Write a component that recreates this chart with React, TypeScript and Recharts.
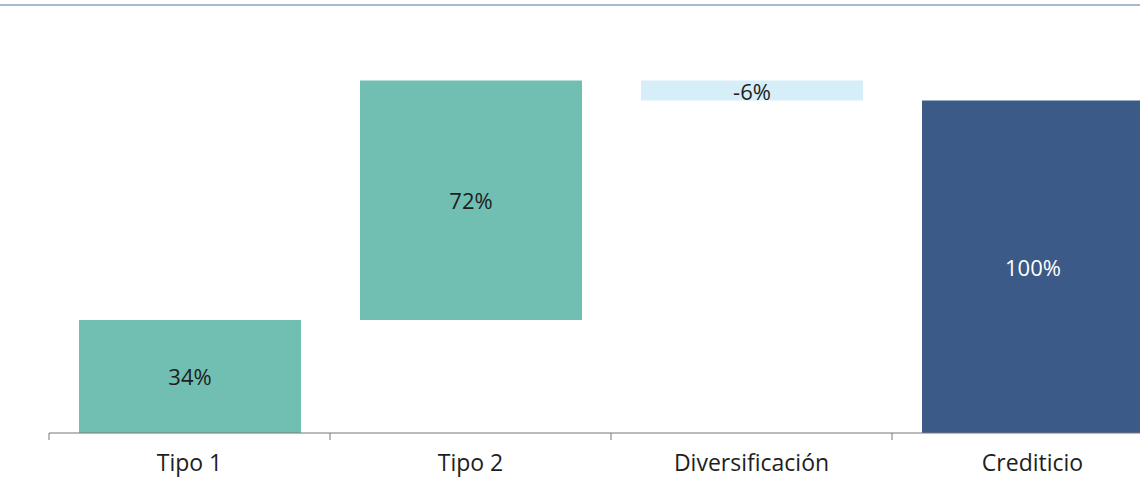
import React from 'react';
import { BarChart, Bar, XAxis, YAxis, Cell, LabelList } from 'recharts';

const categories = ['Tipo 1', 'Tipo 2', 'Diversificación', 'Crediticio'];
const values = [34, 72, -6, 100];
const isTotal = [false, false, false, true];

const barColors = ['#70bfb2', '#70bfb2', '#d6eef8', '#3b5a88'];
const labelColors = ['#1e1e1e', '#1e1e1e', '#1e1e1e', '#ffffff'];

const FONT = "'Open Sans', 'Noto Sans', sans-serif";

// waterfall: invisible base + visible step
const buildData = () => {
  let running = 0;
  return categories.map((name, i) => {
    const v = values[i];
    let base = 0;
    let height = 0;
    if (isTotal[i]) {
      base = 0;
      height = v;
    } else if (v >= 0) {
      base = running;
      height = v;
      running += v;
    } else {
      base = running + v;
      height = -v;
      running += v;
    }
    return { name, base, height, label: `${v}%` };
  });
};

const BAND = 281;

const CategoryTick = (props: any) => {
  const { x, y, payload } = props;
  const left = x - BAND / 2;
  return (
    <g>
      <line x1={left} y1={y} x2={left} y2={y + 7} stroke="#777" strokeWidth={1} />
      <text
        x={x}
        y={y + 38}
        textAnchor="middle"
        fill="#1e1e1e"
        fontSize={23}
        fontFamily={FONT}
      >
        {payload.value}
      </text>
    </g>
  );
};

const BarLabel = (props: any) => {
  const { x, y, width, height, index, value } = props;
  return (
    <text
      x={x + width / 2}
      y={y + height / 2}
      textAnchor="middle"
      dominantBaseline="central"
      fill={labelColors[index] ?? '#1e1e1e'}
      fontSize={22}
      fontFamily={FONT}
    >
      {value}
    </text>
  );
};

export default function App() {
  const data = React.useMemo(buildData, []);

  return (
    <div
      style={{
        position: 'fixed',
        left: 0,
        top: 0,
        width: 1140,
        height: 503,
        overflow: 'hidden',
        background: '#ffffff',
      }}
    >
      <div
        style={{
          position: 'absolute',
          left: 0,
          top: 4,
          width: 1140,
          height: 2,
          background: '#a6bad6',
        }}
      />
      <BarChart
        width={1180}
        height={503}
        data={data}
        margin={{ top: 34, right: 7, left: 49, bottom: 30 }}
        barSize={222}
      >
        <XAxis
          dataKey="name"
          height={40}
          axisLine={{ stroke: '#777', strokeWidth: 1 }}
          tickLine={false}
          tickSize={0}
          tickMargin={0}
          interval={0}
          tick={<CategoryTick />}
        />
        <YAxis hide domain={[0, 120]} />
        <Bar dataKey="base" stackId="w" fill="transparent" isAnimationActive={false} />
        <Bar dataKey="height" stackId="w" isAnimationActive={false}>
          {data.map((d, i) => (
            <Cell key={d.name} fill={barColors[i]} />
          ))}
          <LabelList dataKey="label" content={<BarLabel />} />
        </Bar>
      </BarChart>
    </div>
  );
}
